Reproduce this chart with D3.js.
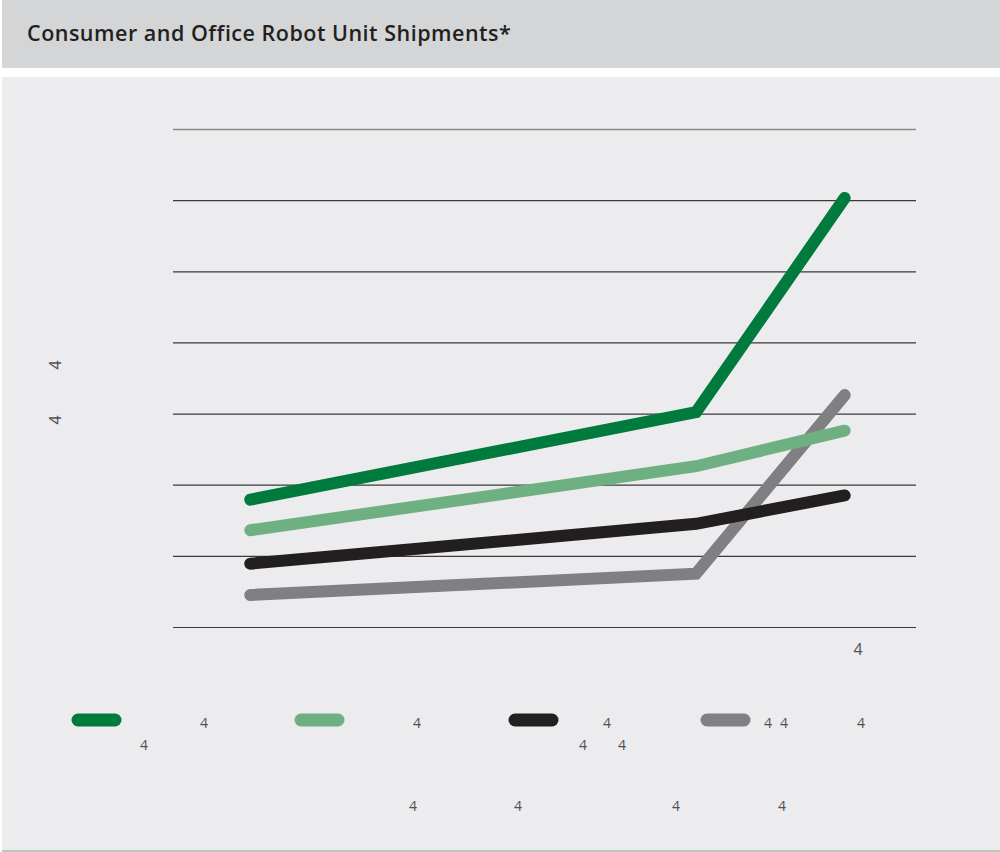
<!DOCTYPE html>
<meta charset="utf-8">
<script src="https://d3js.org/d3.v7.min.js"></script>
<style>
  body { margin: 0; background: #fff; }
  svg { display: block; }
</style>
<body>
<div id="chart"></div>
<script>

// data (millions of units, approx.)
var years = [2013, 2016, 2017];
var series = ["Consumer robots", "Office robots", "Personal robots", "Other robots"];
var colors = ["#007a3d", "#6fb083", "#231f20", "#808083"];
var darkGreen = [1.79, 3.02, 6.03];
var lightGreen = [1.36, 2.26, 2.76];
var black = [0.89, 1.45, 1.85];
var grey = [0.45, 0.75, 3.26];
var yTicks = [0, 1, 2, 3, 4, 5, 6, 7];

// stray glyphs left in the picture where labels once were
var legendText = ["4", "4", "4", "4", "4", "4", "4", "4", "4"];
var axisText = ["4", "4", "4", "4", "4"];
var yTitle = ["4", "4"];

var W = 1000, H = 852;
var margin = { top: 129, right: 84, bottom: 225, left: 173 };
var width = W - margin.left - margin.right;
var height = H - margin.top - margin.bottom;

var svg = d3.select("#chart").append("svg")
  .attr("width", W)
  .attr("height", H);

// title bar + panel
svg.append("rect").attr("x", 2).attr("y", 0).attr("width", W - 2).attr("height", 68).attr("fill", "#d4d5d7");
svg.append("rect").attr("x", 2).attr("y", 77).attr("width", W - 2).attr("height", 773).attr("fill", "#ececee");
svg.append("rect").attr("x", 2).attr("y", 850).attr("width", W - 2).attr("height", 2).attr("fill", "#b7c9c1");

svg.append("text")
  .attr("x", 27).attr("y", 41)
  .style("font-family", "'Open Sans', sans-serif")
  .style("font-size", "21.5px")
  .style("font-weight", 600)
  .style("letter-spacing", "0.5px")
  .attr("fill", "#231f20")
  .text("Consumer and Office Robot Unit Shipments*");

var g = svg.append("g")
  .attr("transform", "translate(" + margin.left + "," + margin.top + ")");

var x = d3.scaleLinear()
  .domain([years[0] - 0.52, years[0] + 4.48])
  .range([0, width]);

var y = d3.scaleLinear()
  .domain([0, 7])
  .range([height, 0]);

g.selectAll(".grid")
  .data(yTicks)
  .enter()
  .append("line")
    .attr("x1", 0)
    .attr("x2", width)
    .attr("y1", function(d) { return y(d) + 0.5; })
    .attr("y2", function(d) { return y(d) + 0.5; })
    .attr("stroke", function(d) { return d == 7 ? "#8a8a8c" : "#3a3a3c"; })
    .attr("stroke-width", function(d) { return d == 7 ? 1.6 : 1.2; });

var line = d3.line()
  .x(function(d, i) { return x(years[i]); })
  .y(function(d) { return y(d); });

var allSeries = [grey, black, lightGreen, darkGreen];
var allColors = [colors[3], colors[2], colors[1], colors[0]];

g.selectAll(".series")
  .data(allSeries)
  .enter()
  .append("path")
    .attr("d", line)
    .attr("fill", "none")
    .attr("stroke", function(d, i) { return allColors[i]; })
    .attr("stroke-width", 12)
    .attr("stroke-linecap", "round")
    .attr("stroke-linejoin", "miter");

// legend swatches
var legendX = [75, 298, 512, 704];
svg.selectAll(".swatch")
  .data(series)
  .enter()
  .append("line")
    .attr("x1", function(d, i) { return legendX[i] + 3; })
    .attr("x2", function(d, i) { return legendX[i] + 40; })
    .attr("y1", 720)
    .attr("y2", 720)
    .attr("stroke", function(d, i) { return colors[i]; })
    .attr("stroke-width", 13)
    .attr("stroke-linecap", "round");

var labelStyle = function(sel) {
  sel.style("font-family", "'Open Sans', sans-serif")
    .style("font-size", "14px")
    .attr("fill", "#505052")
    .attr("text-anchor", "middle");
};

var legendPos = [[204, 728], [144, 750], [417, 728], [607, 728], [583, 750], [622, 750], [768, 728], [784, 728], [861, 728]];
svg.selectAll(".legText")
  .data(legendText)
  .enter()
  .append("text")
    .attr("x", function(d, i) { return legendPos[i][0]; })
    .attr("y", function(d, i) { return legendPos[i][1]; })
    .call(labelStyle)
    .text(function(d) { return d; });

var axisPos = [[858, 655], [413, 811], [518, 811], [676, 811], [782, 811]];
svg.selectAll(".axText")
  .data(axisText)
  .enter()
  .append("text")
    .attr("x", function(d, i) { return axisPos[i][0]; })
    .attr("y", function(d, i) { return axisPos[i][1]; })
    .call(labelStyle)
    .style("font-size", function(d, i) { return i == 0 ? "16px" : "14px"; })
    .text(function(d) { return d; });

var yPos = [365, 420];
svg.selectAll(".yText")
  .data(yTitle)
  .enter()
  .append("text")
    .attr("transform", function(d, i) { return "translate(61," + yPos[i] + ")rotate(-90)"; })
    .call(labelStyle)
    .style("font-size", "16px")
    .text(function(d) { return d; });

</script>
</body>
